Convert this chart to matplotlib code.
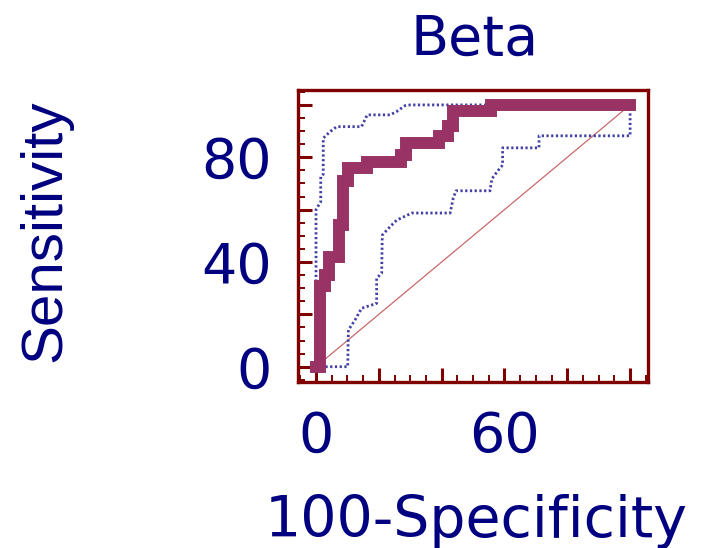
import matplotlib
matplotlib.use("Agg")
import matplotlib.pyplot as plt
from matplotlib.ticker import MultipleLocator, FixedLocator, FixedFormatter

# ---- data ----
roc_fpr = [0, 1.3, 3.0, 4.1, 7.4, 8.6, 10.2, 16.2, 26.9, 28.7, 39.1, 41.9, 43.6, 55.7, 100]
roc_tpr = [0, 31, 35, 42, 54, 71, 75.8, 78.3, 81, 85.6, 88, 92, 97.8, 100, 100]

upper_fpr = [0, 0, 1.5, 1.5, 2.3, 2.3, 4.5, 6.6, 14.5, 16.3, 23.6, 25.7, 28.3, 30, 100]
upper_tpr = [0, 60, 63, 72.6, 73.5, 87.3, 89.8, 91.7, 91.7, 96.2, 96.2, 97.5, 99.7, 100, 100]

lower_fpr = [0, 10.1, 10.3, 12.4, 14.5, 19.3, 19.3, 20.9, 21.1, 23.6, 25.7, 30.5, 42.7,
             43.7, 44.6, 55.4, 56.0, 58.0, 59.4, 59.4, 71.0, 71.0, 100, 100]
lower_tpr = [0, 0, 14, 17.8, 22.3, 24.2, 33.8, 35.7, 50.3, 53.5, 56, 58.7, 58.7,
             64.5, 67.2, 67.2, 71.8, 75, 77, 83.6, 83.6, 88.2, 88.2, 100]

diag = [0, 100]

x_ticks = [0, 20, 40, 60, 80, 100]
x_labels = ["0", "", "", "60", "", ""]
y_ticks = [0, 20, 40, 60, 80, 100]
y_labels = ["0", "", "40", "", "80", ""]

title = "Beta"
xlabel = "100-Specificity"
ylabel = "Sensitivity"

# ---- styling ----
W, H = 701, 548
navy = "#000080"
frame = "#800000"
roc_col = "#993366"
ci_col = "#4040a4"

plt.rcParams["font.family"] = ["DejaVu Sans"]

fig = plt.figure(figsize=(W / 100, H / 100), dpi=100)
fig.patch.set_facecolor("white")

left_px, right_px, top_px, bottom_px = 298.3, 647.7, 90.0, 381.7
ax = fig.add_axes([left_px / W, 1 - bottom_px / H,
                   (right_px - left_px) / W, (bottom_px - top_px) / H])

ax.plot(diag, diag, color="#c86868", lw=0.9, zorder=1)
ax.plot(upper_fpr, upper_tpr, color=ci_col, lw=2.0, linestyle=(0, (0.8, 0.9)), zorder=2)
ax.plot(lower_fpr, lower_tpr, color=ci_col, lw=2.0, linestyle=(0, (0.8, 0.9)), zorder=2)
ax.plot(roc_fpr, roc_tpr, drawstyle="steps-post", color=roc_col, lw=8.6,
        solid_capstyle="projecting", solid_joinstyle="miter", zorder=3)

ax.set_xlim(-5.64, 105.6)
ax.set_ylim(-5.73, 105.7)

for s in ax.spines.values():
    s.set_color(frame)
    s.set_linewidth(2.4)

ax.xaxis.set_major_locator(FixedLocator(x_ticks))
ax.xaxis.set_major_formatter(FixedFormatter(x_labels))
ax.yaxis.set_major_locator(FixedLocator(y_ticks))
ax.yaxis.set_major_formatter(FixedFormatter(y_labels))
ax.xaxis.set_minor_locator(MultipleLocator(5))
ax.yaxis.set_minor_locator(MultipleLocator(5))

ax.tick_params(which="major", direction="in", length=10, width=2.2, color=frame,
               labelsize=40, labelcolor=navy)
ax.tick_params(which="minor", direction="in", length=5, width=1.4, color=frame)
ax.tick_params(axis="x", which="major", pad=20)
ax.tick_params(axis="y", which="major", pad=19)
ax.tick_params(top=False, right=False, which="both")

fig.text(475 / W, 1 - 55 / H, title, ha="center", va="baseline",
         fontsize=40, color=navy)
fig.text(476 / W, 1 - 537 / H, xlabel, ha="center", va="baseline",
         fontsize=41, color=navy)
fig.text(45 / W, 1 - 231 / H, ylabel, ha="center", va="center", rotation=90,
         fontsize=42, color=navy, family=["Liberation Sans", "DejaVu Sans"])

fig.savefig("out.png", dpi=100, facecolor="white")
